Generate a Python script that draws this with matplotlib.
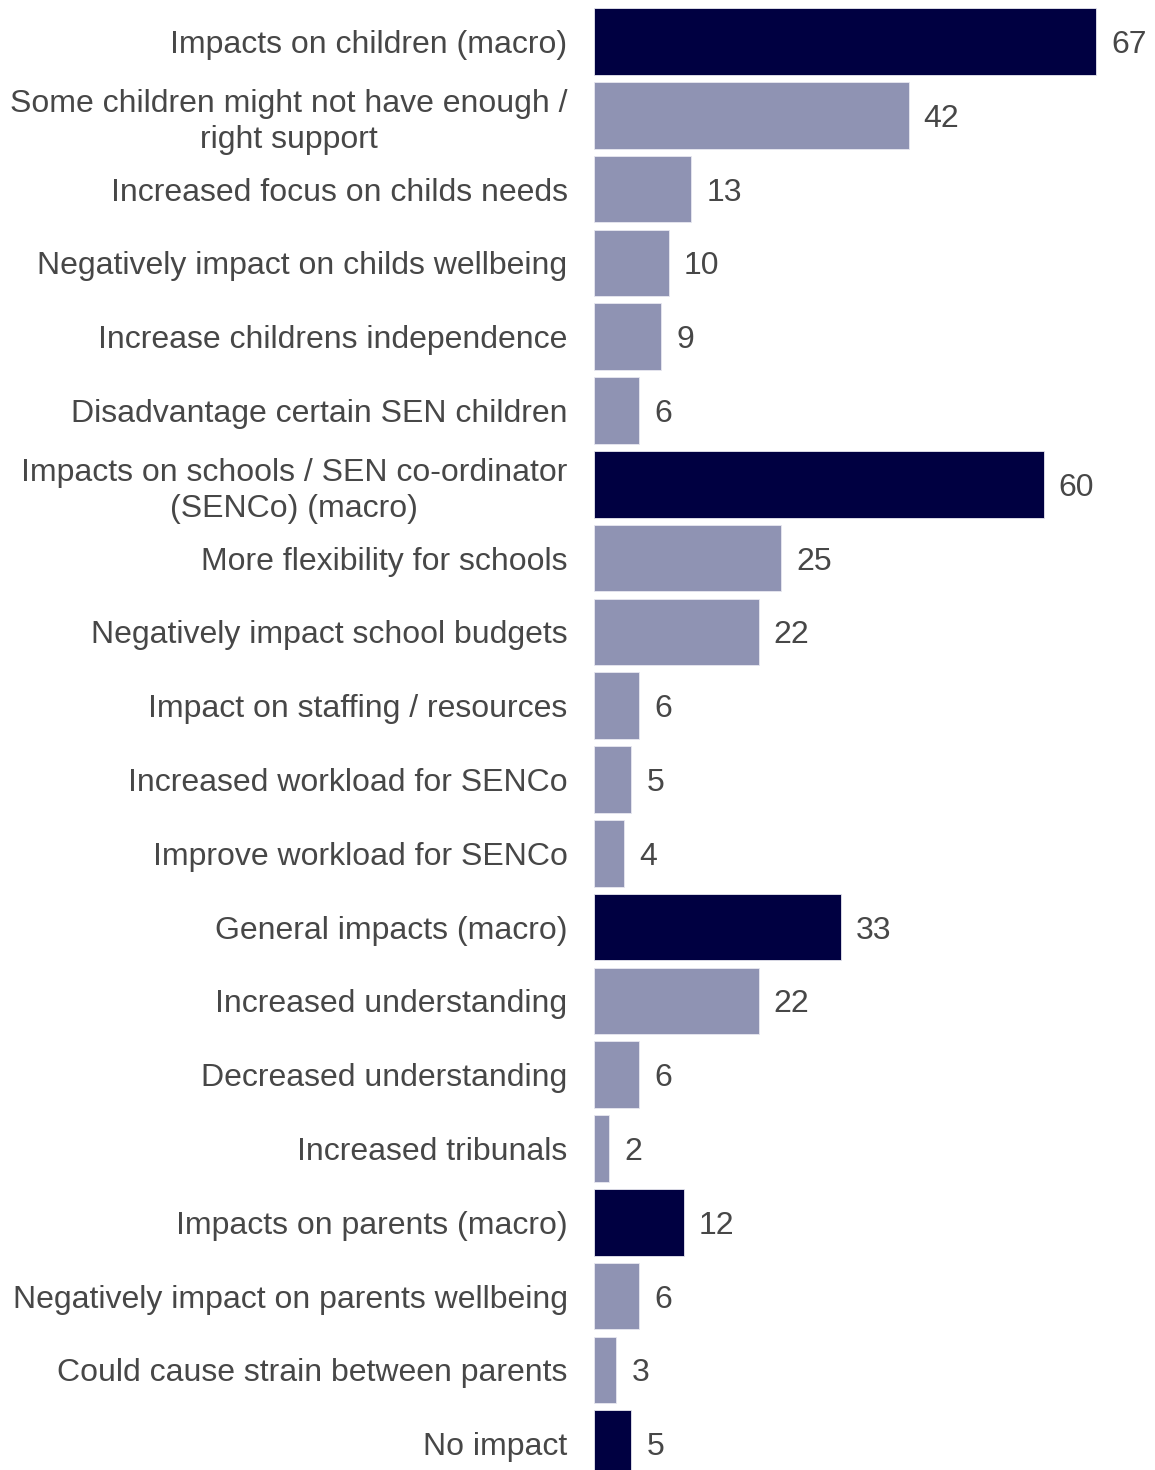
import matplotlib
matplotlib.use("Agg")
import matplotlib.pyplot as plt

categories = [
    "Impacts on children (macro)",
    "Some children might not have enough /\nright support",
    "Increased focus on childs needs",
    "Negatively impact on childs wellbeing",
    "Increase childrens independence",
    "Disadvantage certain SEN children",
    "Impacts on schools / SEN co-ordinator\n(SENCo) (macro)",
    "More flexibility for schools",
    "Negatively impact school budgets",
    "Impact on staffing / resources",
    "Increased workload for SENCo",
    "Improve workload for SENCo",
    "General impacts (macro)",
    "Increased understanding",
    "Decreased understanding",
    "Increased tribunals",
    "Impacts on parents (macro)",
    "Negatively impact on parents wellbeing",
    "Could cause strain between parents",
    "No impact",
]
values = [67, 42, 13, 10, 9, 6, 60, 25, 22, 6, 5, 4, 33, 22, 6, 2, 12, 6, 3, 5]
is_macro = [True, False, False, False, False, False, True, False, False, False,
            False, False, True, False, False, False, True, False, False, True]

DARK = "#000041"
LIGHT = "#8F93B3"
TEXT = "#474747"

plt.rcParams['font.family'] = ['Liberation Sans', 'DejaVu Sans']

W, H = 1155, 1470
fig = plt.figure(figsize=(W / 100, H / 100), dpi=100)
left_px = 594
ax = fig.add_axes([left_px / W, 0, 1 - left_px / W, 1])

pitch = 73.8
ys = list(range(len(values)))
colors = [DARK if m else LIGHT for m in is_macro]
ax.barh(ys, values, height=0.905, color=colors, edgecolor="#E8E8F0", linewidth=0.6)

px_per_unit = (1096 - 594) / 67
ax.set_xlim(0, (W - left_px) / px_per_unit)
top = -41.5 / pitch
bottom = top + H / pitch
ax.set_ylim(bottom, top)

FS = 23
for y, v in zip(ys, values):
    ax.annotate(str(v), xy=(v, y), xytext=(15, 0), textcoords="offset pixels",
                va="center_baseline", ha="left", fontsize=FS, color=TEXT)

ax.set_yticks(ys)
ax.set_yticklabels(categories, fontsize=FS, color=TEXT, linespacing=1.27)
for t in ax.get_yticklabels():
    t.set_multialignment("center")
ax.tick_params(axis="y", length=0, pad=19)
ax.set_xticks([])
for s in ax.spines.values():
    s.set_visible(False)

fig.savefig("out.png", dpi=100, facecolor="white")
